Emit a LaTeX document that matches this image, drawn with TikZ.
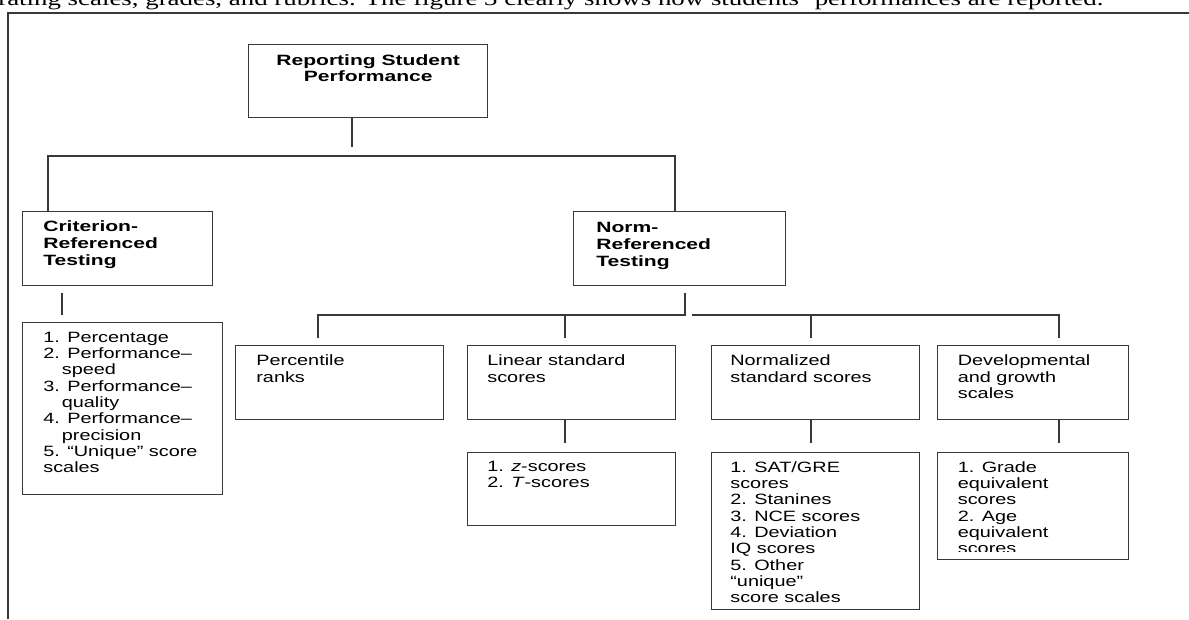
\documentclass[tikz,border=0pt]{standalone}
\usepackage{fontspec}
\setmainfont{Liberation Sans}[FakeStretch=1.33, BoldFeatures={FakeStretch=1.41}]
\newfontfamily\paperfont{Liberation Serif}[FakeStretch=1.33]
\definecolor{linegray}{HTML}{383838}

\tikzset{
  frame/.style={draw=linegray, line width=0.8pt},
  tree/.style={draw=linegray, line width=0.8pt},
  box/.style={draw=linegray, line width=0.8pt, anchor=north west, inner sep=0pt, minimum height=1.48cm},
  item/.style={anchor=north west, inner sep=0pt, align=left, font=\fontsize{8.5}{9.3}\selectfont},
  head/.style={item, font=\bfseries\fontsize{8.5}{9.7}\selectfont},
}

\begin{document}
\begin{tikzpicture}[x=0.02cm, y=-0.02cm]
  \useasboundingbox (0,0) rectangle (1189,619);
  \node[anchor=base west, inner sep=0pt, font=\paperfont\fontsize{11.5}{13}\selectfont] (para) at (-2,5)
    {rating scales, grades, and rubrics. The figure 3 clearly shows how students’ performances are reported.};
  \draw[frame] (8,619) -- (8,13) -- (1189,13);

  \node[box, minimum width=4.78cm, minimum height=1.46cm] (top) at (248,44) {};
  \node[box, minimum width=3.80cm] (crit) at (22,211) {};
  \node[box, minimum width=4.24cm] (norm) at (573,211) {};
  \node[box, minimum width=4.00cm, minimum height=3.44cm] (critlist) at (22,322) {};
  \node[box, minimum width=4.16cm] (pct) at (235,345) {};
  \node[box, minimum width=4.16cm] (lin) at (467,345) {};
  \node[box, minimum width=4.16cm] (nrm) at (711,345) {};
  \node[box, minimum width=3.82cm] (dev) at (937,345) {};
  \node[box, minimum width=4.16cm, minimum height=1.46cm] (linlist) at (467,452) {};
  \node[box, minimum width=4.16cm, minimum height=3.14cm] (nrmlist) at (711,452) {};
  \node[box, minimum width=3.82cm, minimum height=2.14cm] (devlist) at (937,452) {};

  \node[head, anchor=north, align=center, font=\bfseries\fontsize{8.5}{9.1}\selectfont] (top-t) at ([yshift=-0.2cm]top.north) {Reporting Student\\Performance};
  \node[head] (crit-t) at ([xshift=0.42cm, yshift=-0.19cm]crit.north west) {Criterion-\\Referenced\\Testing};
  \node[head] (norm-t) at ([xshift=0.46cm, yshift=-0.21cm]norm.north west) {Norm-\\Referenced\\Testing};
  \node[item] (critlist-t) at ([xshift=0.42cm, yshift=-0.19cm]critlist.north west)
    {1. Percentage\\2. Performance–\\\hspace*{0.37cm}speed\\3. Performance–\\\hspace*{0.37cm}quality\\4. Performance–\\\hspace*{0.37cm}precision\\5. “Unique” score\\scales};
  \node[item] (pct-t) at ([xshift=0.42cm, yshift=-0.19cm]pct.north west) {Percentile\\ranks};
  \node[item] (lin-t) at ([xshift=0.40cm, yshift=-0.19cm]lin.north west) {Linear standard\\scores};
  \node[item] (nrm-t) at ([xshift=0.38cm, yshift=-0.19cm]nrm.north west) {Normalized\\standard scores};
  \node[item] (dev-t) at ([xshift=0.41cm, yshift=-0.19cm]dev.north west) {Developmental\\and growth\\scales};
  \node[item] (linlist-t) at ([xshift=0.40cm, yshift=-0.18cm]linlist.north west) {1. \textit{z}-scores\\2. \textit{T}-scores};
  \node[item] (nrmlist-t) at ([xshift=0.38cm, yshift=-0.18cm]nrmlist.north west)
    {1. SAT/GRE\\scores\\2. Stanines\\3. NCE scores\\4. Deviation\\IQ scores\\5. Other\\“unique”\\score scales};
  \begin{scope}
    \clip (937,452) rectangle (1128,551.5);
    \node[item] (devlist-t) at ([xshift=0.41cm, yshift=-0.18cm]devlist.north west)
      {1. Grade\\equivalent\\scores\\2. Age\\equivalent\\scores};
  \end{scope}

  \coordinate (j0) at (352,147);
  \coordinate (jl) at (48,156);
  \coordinate (jr) at (675,156);
  \coordinate (cx) at (62,300);
  \coordinate (nb) at (685,315);
  \coordinate (b1) at (318,315);
  \coordinate (b2) at (565,315);
  \coordinate (b3) at (811,315);
  \coordinate (b4) at (1059,315);

  \draw[tree] (top.south -| j0) -- (j0);
  \draw[tree] (crit.north -| jl) -- (jl) -- (jr) -- (norm.north -| jr);
  \draw[tree, shorten <=0.14cm, shorten >=0.14cm] (crit.south -| cx) -- (critlist.north -| cx);
  \draw[tree, shorten <=0.14cm, shorten >=0.14cm] (norm.south -| nb) -- (nb) -- (b1) -- (pct.north -| b1);
  \draw[tree, shorten >=0.14cm] ([xshift=0.14cm]nb) -- (b4) -- (dev.north -| b4);
  \draw[tree, shorten >=0.14cm] (b2) -- (lin.north -| b2);
  \draw[tree, shorten >=0.14cm] (b3) -- (nrm.north -| b3);
  \draw[tree, shorten >=0.18cm] (lin.south -| b2) -- (linlist.north -| b2);
  \draw[tree, shorten >=0.18cm] (nrm.south -| b3) -- (nrmlist.north -| b3);
  \draw[tree, shorten >=0.18cm] (dev.south -| b4) -- (devlist.north -| b4);
\end{tikzpicture}
\end{document}
